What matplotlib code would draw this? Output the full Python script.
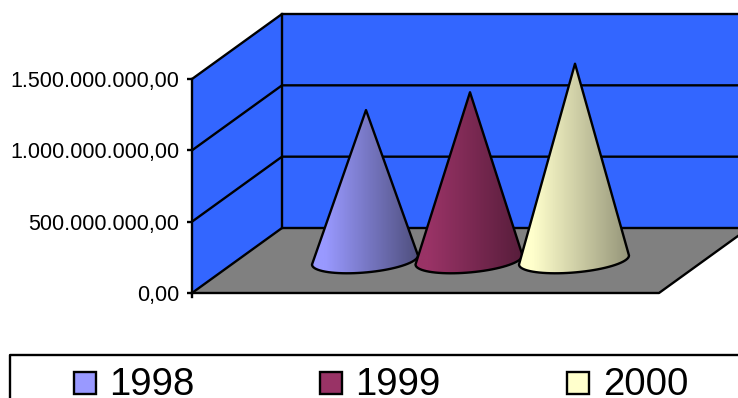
import numpy as np
import matplotlib
matplotlib.use('Agg')
import matplotlib.pyplot as plt
from matplotlib.colors import LinearSegmentedColormap
from matplotlib.patches import Polygon, Rectangle
from matplotlib.ticker import FuncFormatter

# data
years = ['1998', '1999', '2000']
values = [1065000000, 1190000000, 1390000000]
yticks = [0, 500000000, 1000000000, 1500000000]
colors_light = ['#9999FF', '#993366', '#FFFFCC']
colors_dark = ['#50507F', '#571D3B', '#96967A']

W, H = 738, 398
BLUE = '#3366FF'
GREY = '#808080'
LW = 1.7
plt.rcParams['font.family'] = ['Liberation Sans', 'DejaVu Sans']

fig = plt.figure(figsize=(W / 100, H / 100), dpi=100)
# main axes in pixels, y going down
ax = fig.add_axes([0, 0, 1, 1])
ax.set_xlim(0, W)
ax.set_ylim(H, 0)
ax.axis('off')

# value axis sits on the front left edge of the wall
x0, y0, y1 = 192, 293, 79
dx, dy = 90, -65
ax_val = fig.add_axes([x0 / W, 1 - y0 / H, 0.001, (y0 - y1) / H])
ax_val.patch.set_alpha(0)
ax_val.set_ylim(0, 1500000000)
ax_val.set_yticks(yticks)
ax_val.yaxis.set_major_formatter(FuncFormatter(
    lambda v, p: f'{v:,.2f}'.replace(',', 'X').replace('.', ',').replace('X', '.')))
ax_val.tick_params(axis='y', labelsize=15.5, length=3.5, width=LW, pad=5.5)
ax_val.set_xticks([])
for s in ['top', 'right', 'bottom']:
    ax_val.spines[s].set_visible(False)
ax_val.spines['left'].set_linewidth(LW)


def val_px(v):
    # value -> pixel row, through the value axis
    p = ax_val.transData.transform((0, v))
    return ax.transData.inverted().transform(p)[1]


x_right = 659
# floor and walls
ax.add_patch(Polygon([(x0, y0), (x0 + dx, y0 + dy), (x_right + dx, y0 + dy), (x_right, y0)],
                     fc=GREY, ec='none', zorder=1))
ax.add_patch(Polygon([(x0, y0), (x0, y1), (x0 + dx, y1 + dy), (x0 + dx, y0 + dy)],
                     fc=BLUE, ec='none', zorder=1))
ax.add_patch(Rectangle((x0 + dx, y1 + dy), x_right, y0 - y1, fc=BLUE, ec='none', zorder=1))

# grid lines round the walls
for t in yticks:
    y = val_px(t)
    ax.plot([x0, x0 + dx, x_right + dx], [y, y + dy, y + dy], color='k', lw=LW, zorder=2,
            solid_joinstyle='miter')
ax.plot([x0 + dx, x0 + dx], [y0 + dy, y1 + dy], color='k', lw=LW, zorder=2)
ax.plot([x0, x_right, x_right + dx], [y0, y0, y0 + dy], color='k', lw=LW, zorder=2)
ax.plot([x0, x0], [y0, y0 + 4], color='k', lw=LW, zorder=2)

# cones, the base ellipse leans up to the right
cone_x = [365, 469, 574]
cone_rx = [53, 53.5, 55]
base_y = 262
for i in range(len(values)):
    cx, rx = cone_x[i], cone_rx[i]
    apex = val_px(values[i]) - val_px(0) + base_y
    th = np.linspace(0, np.pi, 40)
    pts = [(cx + 1, apex)] + list(zip(cx + rx * np.cos(th),
                                      base_y - 2 + 12.5 * np.sin(th) - 4.5 * np.cos(th)))
    outline = Polygon(pts, fc='none', ec='k', lw=LW, zorder=5 + i * 2 + 1, joinstyle='round')
    cmap = LinearSegmentedColormap.from_list(
        'c', [(0, colors_light[i]), (0.12, colors_light[i]), (1, colors_dark[i])])
    grad = np.linspace(0, 1, 100).reshape(1, -1)
    im = ax.imshow(grad, cmap=cmap, extent=[cx - rx, cx + rx, base_y + 20, apex],
                   aspect='auto', zorder=5 + i * 2)
    ax.add_patch(outline)
    im.set_clip_path(outline)
ax.set_xlim(0, W)
ax.set_ylim(H, 0)

# legend box, runs off the picture
ax.plot([10, 10, W + 5], [H + 5, 355, 355], color='k', lw=LW, zorder=3)
swatch_x = [74, 320, 567]
text_x = [109, 355, 603]
for i in range(len(years)):
    ax.add_patch(Rectangle((swatch_x[i], 372), 22, 22, fc=colors_light[i], ec='k', lw=LW, zorder=3))
    ax.text(text_x[i], 395, years[i], fontsize=27.6, va='baseline', ha='left', color='k')

fig.savefig('out.png', dpi=100)
